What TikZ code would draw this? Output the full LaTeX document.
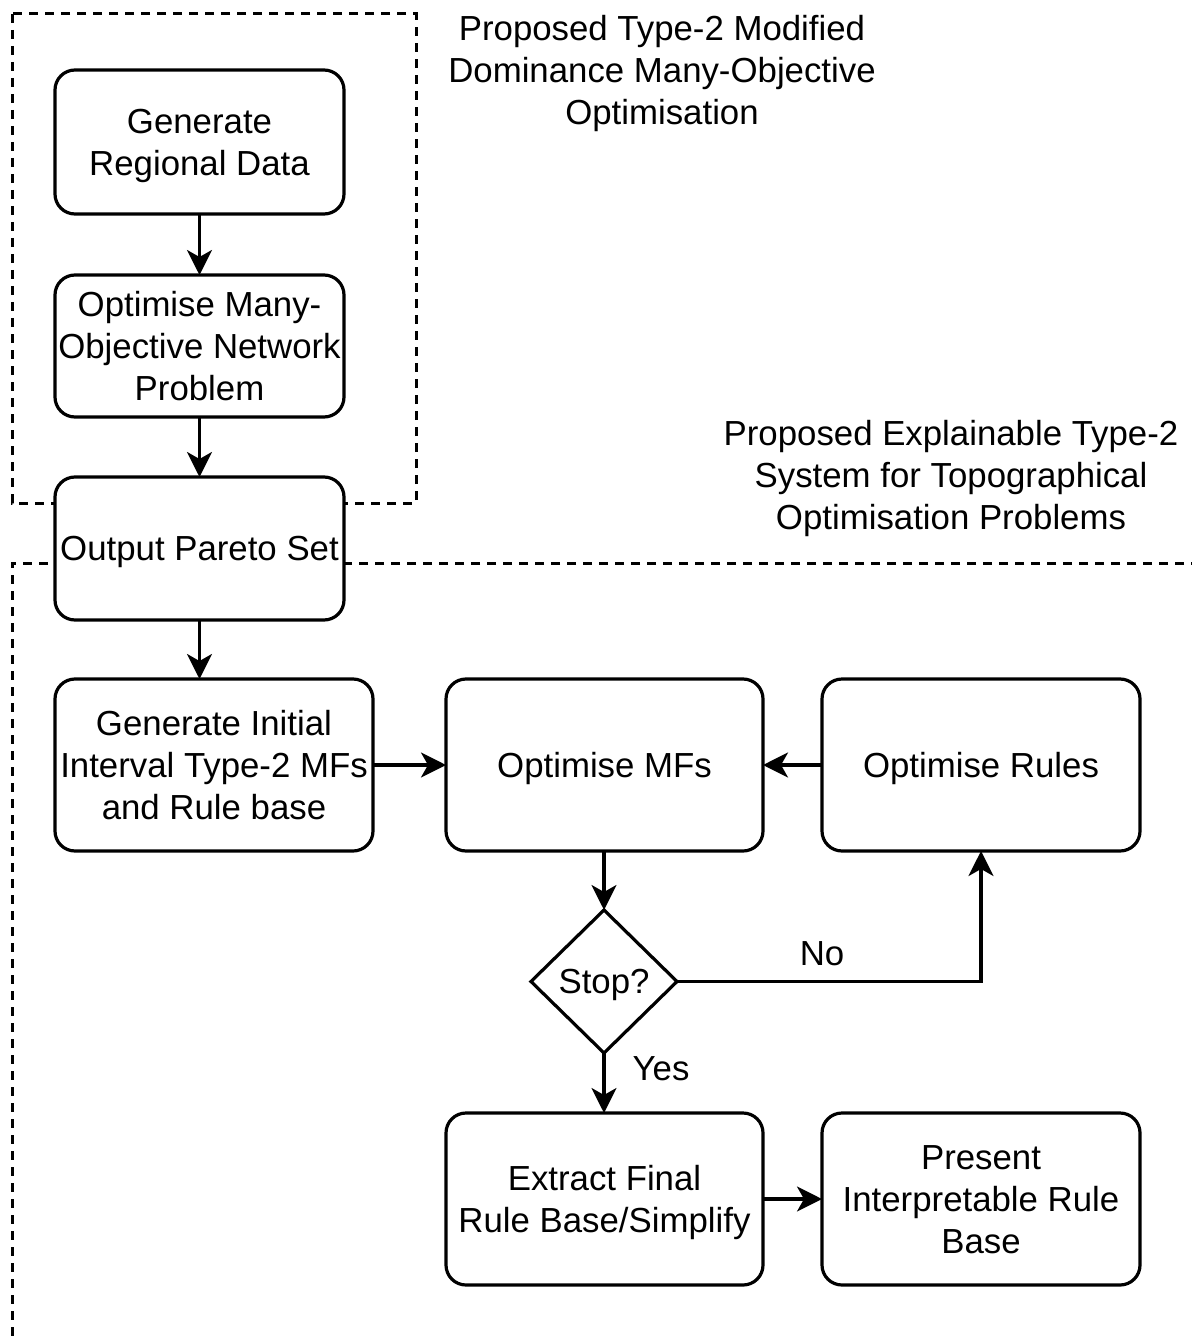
\documentclass[tikz,border=0pt]{standalone}
\usepackage{fontspec}
\setmainfont{Liberation Sans}
\usetikzlibrary{arrows.meta,shapes.geometric}

% invisible strut giving each text line a 1.2em line box
\newcommand{\linestrut}{\rule[-4.4pt]{0pt}{20.9pt}}

\tikzset{
  txt/.style={font=\fontsize{17.4}{21}\selectfont, align=center,
    execute at begin node=\linestrut, execute at end node=\linestrut},
  blocktxt/.style={txt, text width=#1, align=flush center},
  procbox/.style 2 args={txt, text width=#1, align=flush center,
    minimum width=#1, minimum height=#2,
    draw, line width=1.6pt, rounded corners=10pt, fill=white,
    inner sep=0pt, outer sep=0pt},
  decision/.style={txt, draw, line width=1.6pt, diamond, fill=white,
    inner sep=0pt, outer sep=0pt, minimum width=73pt, minimum height=71.5pt},
  flow/.style={line width=1.6pt, -{Stealth[length=12.5pt,width=12.5pt,inset=3.5pt]}},
  region/.style={line width=1.5pt, dash pattern=on 4.5pt off 3.5pt},
}

\begin{document}
\begin{tikzpicture}[x=0.5pt,y=-0.5pt]
  \useasboundingbox (0,0) rectangle (1192,1342);

  % dashed group outlines
  \draw[region] (12,14) rectangle (416,503);
  \draw[region] (1200,563) -- (12,563) -- (12,1350);

  % group titles
  \node[blocktxt=250pt] (titleA) at (662,70) {Proposed Type-2 Modified\\Dominance Many-Objective\\Optimisation};
  \node[blocktxt=240pt] (titleB) at (951,475) {Proposed Explainable Type-2\\System for Topographical\\Optimisation Problems};

  % process steps
  \node[procbox={144.5pt}{72pt}] (gen) at (199.5,142) {Generate\\Regional Data};
  \node[procbox={144.5pt}{71pt}] (opt) at (199.5,346) {Optimise Many-\\Objective Network\\Problem};
  \node[procbox={144.5pt}{71.5pt}] (pareto) at (199.5,548.5) {Output Pareto Set};
  \node[procbox={159pt}{86pt}] (init) at (214,765) {Generate Initial\\Interval Type-2 MFs\\and Rule base};
  \node[procbox={158.5pt}{86pt}] (mfs) at (604.5,765) {Optimise MFs};
  \node[procbox={159pt}{86pt}] (rules) at (981,765) {Optimise Rules};
  \node[decision] (stop) at (604,981.5) {Stop?};
  \node[procbox={158.5pt}{86pt}] (extract) at (604.5,1199) {Extract Final\\Rule Base/Simplify};
  \node[procbox={159pt}{86pt}] (present) at (981,1199) {Present\\Interpretable Rule\\Base};

  % connectors
  \draw[flow] (gen) -- (opt);
  \draw[flow] (opt) -- (pareto);
  \draw[flow] (pareto.south) -- (pareto.south |- init.north);
  \draw[flow] (init) -- (mfs);
  \draw[flow] (rules) -- (mfs);
  \draw[flow] (mfs.south -| stop.north) -- (stop.north);
  \draw[flow] (stop.east) -| (rules.south);
  \draw[flow] (stop.south) -- (stop.south |- extract.north);
  \draw[flow] (extract.east |- present.west) -- (present.west);

  % branch labels
  \node[txt] (no) at (822,953) {No};
  \node[txt] (yes) at (661,1068) {Yes};
\end{tikzpicture}
\end{document}
